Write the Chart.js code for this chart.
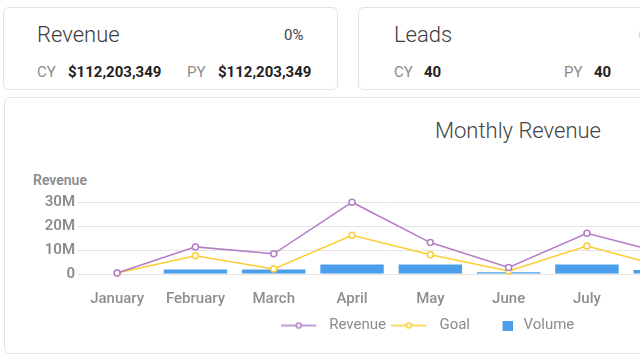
<!DOCTYPE html>
<html>
<head>
<meta charset="utf-8">
<script src="https://cdn.jsdelivr.net/npm/chart.js"></script>
<style>
html, body { margin: 0; padding: 0; overflow: hidden; background: #fff; width: 640px; height: 360px; }
body { position: relative; font-family: Roboto, "Open Sans", sans-serif; }
.card { position: absolute; border: 1px solid #e3e3e3; border-radius: 6px; box-sizing: border-box; background: #fff; }
.t { position: absolute; white-space: nowrap; line-height: 1; }
.head { font-size: 22px; color: #3c3c3c; font-weight: 300; }
.pct { font-size: 15px; color: #444; }
.lbl { font-size: 15px; color: #8c8c8c; }
.val { font-size: 15px; color: #222; font-weight: 700; }
#chartWrap { position: absolute; left: 8px; top: 190px; }
</style>
</head>
<body>

<div class="card" style="left:3px;top:7px;width:335px;height:83px"></div>
<div class="t head" style="left:37px;top:24px">Revenue</div>
<div class="t pct" style="left:284px;top:28px">0%</div>
<div class="t lbl" style="left:37px;top:65px">CY</div>
<div class="t val" style="left:68px;top:65px">$112,203,349</div>
<div class="t lbl" style="left:187px;top:65px">PY</div>
<div class="t val" style="left:218px;top:65px">$112,203,349</div>

<div class="card" style="left:358px;top:7px;width:335px;height:83px"></div>
<div class="t head" style="left:394px;top:24px">Leads</div>
<div class="t pct" style="left:639px;top:28px">0%</div>
<div class="t lbl" style="left:394px;top:65px">CY</div>
<div class="t val" style="left:424px;top:65px">40</div>
<div class="t lbl" style="left:564px;top:65px">PY</div>
<div class="t val" style="left:594px;top:65px">40</div>

<div class="card" style="left:4px;top:97px;width:700px;height:257px"></div>
<div class="t head" style="left:435px;top:120px;color:#444">Monthly Revenue</div>
<div class="t" style="left:33px;top:173px;font-size:14px;font-weight:600;color:#8c8c8c">Revenue</div>

<div id="chartWrap"><canvas id="revenue-chart" width="844" height="153"></canvas></div>

<script>
const months = ['January', 'February', 'March', 'April', 'May', 'June', 'July', 'August'];
const revenue = [400000, 11300000, 8400000, 29900000, 13100000, 2700000, 17000000, 8500000];
const goal = [400000, 7600000, 2100000, 16100000, 8000000, 1300000, 11700000, 2900000];
const volume = [0, 1900000, 1900000, 4000000, 4000000, 700000, 4000000, 1700000];
const yTicks = [0, 10000000, 20000000, 30000000];

const purple = '#b27dc6';
const yellow = '#fccd33';
const blue = '#4a9eea';

// legend markers: a line with a dot, and a square
function lineMarker(color) {
    const c = document.createElement('canvas');
    c.width = 45;
    c.height = 8;
    const g = c.getContext('2d');
    g.strokeStyle = color;
    g.lineWidth = 1.5;
    g.beginPath();
    g.moveTo(0, 4);
    g.lineTo(35, 4);
    g.stroke();
    g.fillStyle = '#fff';
    g.beginPath();
    g.arc(17.5, 4, 2.5, 0, Math.PI * 2);
    g.fill();
    g.stroke();
    return c;
}
function squareMarker(color) {
    const c = document.createElement('canvas');
    c.width = 29;
    c.height = 10;
    const g = c.getContext('2d');
    g.fillStyle = color;
    g.fillRect(19, 0, 10, 10);
    return c;
}
const markers = [lineMarker(purple), lineMarker(yellow), squareMarker(blue)];

const revenueChart = document.querySelector('#revenue-chart').getContext('2d');

const revenueGraph = new Chart(revenueChart, {
    type: 'bar',
    data: {
        labels: months,
        datasets: [
            {
                type: 'line',
                label: 'Revenue',
                data: revenue,
                borderColor: purple,
                backgroundColor: '#fff',
                borderWidth: 1.5,
                pointRadius: 3,
                pointBorderWidth: 1.5,
                pointBackgroundColor: '#fff',
                tension: 0,
                clip: false,
                order: 1
            },
            {
                type: 'line',
                label: 'Goal',
                data: goal,
                borderColor: yellow,
                backgroundColor: '#fff',
                borderWidth: 1.5,
                pointRadius: 3,
                pointBorderWidth: 1.5,
                pointBackgroundColor: '#fff',
                tension: 0,
                clip: false,
                order: 2
            },
            {
                type: 'bar',
                label: 'Volume',
                data: volume,
                backgroundColor: blue,
                borderWidth: 0,
                barPercentage: 1,
                categoryPercentage: 0.81,
                order: 3
            }
        ]
    },
    options: {
        responsive: false,
        animation: false,
        layout: { padding: { top: 10, left: 0, right: 0, bottom: 0 } },
        plugins: {
            title: { display: false },
            tooltip: { enabled: false },
            legend: {
                position: 'bottom',
                labels: {
                    usePointStyle: true,
                    pointStyleWidth: 36,
                    boxHeight: 14,
                    padding: 10,
                    color: '#8c8c8c',
                    font: { family: 'Roboto', size: 15 },
                    generateLabels(chart) {
                        const items = Chart.defaults.plugins.legend.labels.generateLabels(chart);
                        items.forEach(item => { item.pointStyle = markers[item.datasetIndex]; });
                        return items;
                    }
                }
            }
        },
        scales: {
            x: {
                grid: { display: false, drawTicks: false },
                border: { display: false },
                afterFit(scale) { scale.height = 34; },
                ticks: {
                    padding: 16,
                    maxRotation: 0,
                    color: '#8e8e8e',
                    font: { family: 'Roboto', size: 15, weight: '500' }
                }
            },
            y: {
                min: 0,
                max: 30000000,
                afterBuildTicks(scale) {
                    scale.ticks = yTicks.map(v => ({ value: v }));
                },
                afterFit(scale) { scale.width = 70; },
                grid: { color: '#e4e4e4', drawTicks: false },
                border: { display: false },
                ticks: {
                    autoSkip: false,
                    padding: 3,
                    color: '#8c8c8c',
                    font: { family: 'Roboto', size: 15, weight: '600' },
                    callback: v => v === 0 ? '0' : (v / 1000000) + 'M'
                }
            },
            // empty axis on the right, only leaves room past the visible part
            pad: {
                type: 'linear',
                position: 'right',
                grid: { display: false, drawTicks: false },
                border: { display: false },
                ticks: { display: false },
                afterFit(scale) { scale.width = 147.6; }
            }
        }
    }
});
</script>
</body>
</html>
